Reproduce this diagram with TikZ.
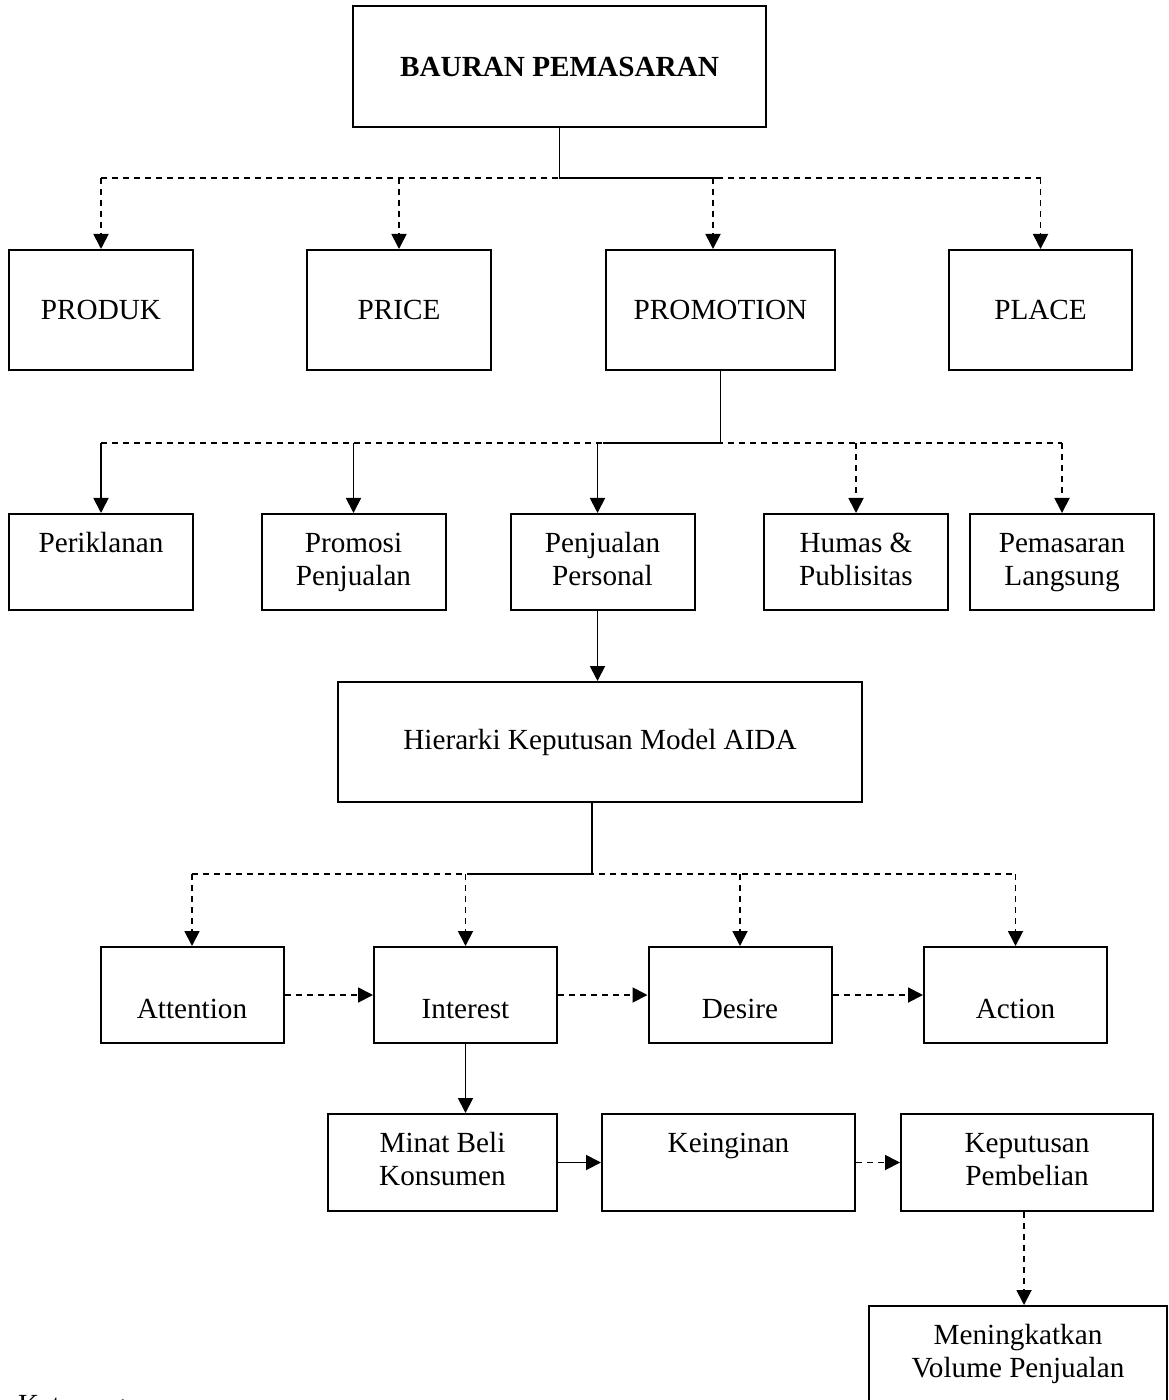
\documentclass[tikz,border=0pt]{standalone}
\usepackage{fontspec}
\setmainfont{Liberation Serif}
\usetikzlibrary{ arrows.meta, % For the filled triangle tips
               }
\tikzstyle{box} = [rectangle, draw=black, line width=1pt, align=center, inner sep=0pt,
                   font=\fontsize{14.6}{16.5}\selectfont]
\tikzstyle{rowtwo} = [box, minimum width=92pt, minimum height=60pt]
\tikzstyle{rowthree} = [box, minimum width=92pt, minimum height=48pt]
\tikzstyle{rowfour} = [box, minimum width=91.5pt, minimum height=48pt]
\tikzstyle{rowfive} = [box, minimum height=48.5pt]
\tikzstyle{link} = [draw=black, line width=0.9pt]
\tikzstyle{dashline} = [link, dash pattern=on 3pt off 2.5pt]
\tikzstyle{solidarrow} = [link, -{Triangle[length=7.5pt, width=7.5pt]}]
\tikzstyle{dasharrow} = [dashline, -{Triangle[length=7.5pt, width=7.5pt]}]
\newcommand{\boxlines}[2]{\strut #1\\\strut #2}

\begin{document}
\begin{tikzpicture}[x=0.5pt, y=-0.5pt]
  \useasboundingbox[fill=white] (0, 0) rectangle (1168, 1400);

  % bauran pemasaran
  \node (bauran) [box, minimum width=206.5pt, minimum height=60.5pt] at (559.5, 66.5) {\textbf{BAURAN PEMASARAN}};

  \node (produk) [rowtwo] at (101, 310) {PRODUK};
  \node (price) [rowtwo] at (399, 310) {PRICE};
  \node (promotion) [rowtwo, minimum width=114.5pt] at (720.5, 310) {PROMOTION};
  \node (place) [rowtwo, minimum width=91.5pt] at (1040.5, 310) {PLACE};

  % promotion mix
  \node (iklan) [rowthree] at (101, 562) {\boxlines{Periklanan}{}};
  \node (promosi) [rowthree] at (353.5, 562) {\boxlines{Promosi}{Penjualan}};
  \node (personal) [rowthree] at (602.5, 562) {\boxlines{Penjualan}{Personal}};
  \node (humas) [rowthree] at (856, 562) {\boxlines{Humas \&}{Publisitas}};
  \node (langsung) [rowthree] at (1062, 562) {\boxlines{Pemasaran}{Langsung}};

  \node (aida) [box, minimum width=262pt, minimum height=60pt] at (600, 742) {Hierarki Keputusan Model AIDA};

  % AIDA
  \node (attention) [rowfour] at (192, 995) {\boxlines{}{Attention}};
  \node (interest) [rowfour] at (465.5, 995) {\boxlines{}{Interest}};
  \node (desire) [rowfour] at (740, 995) {\boxlines{}{Desire}};
  \node (action) [rowfour] at (1015.5, 995) {\boxlines{}{Action}};

  \node (minat) [rowfive, minimum width=114.5pt] at (442.5, 1162.5) {\boxlines{Minat Beli}{Konsumen}};
  \node (keinginan) [rowfive, minimum width=126.5pt] at (728.5, 1162.5) {\boxlines{Keinginan}{}};
  \node (keputusan) [rowfive, minimum width=126pt] at (1027, 1162.5) {\boxlines{Keputusan}{Pembelian}};
  \node (naik) [box, minimum width=149pt, minimum height=48pt] at (1018, 1354) {\boxlines{Meningkatkan}{Volume Penjualan}};

  \node (ket) [anchor=base west, font=\fontsize{14.6}{16.5}\selectfont] at (11, 1414) {Keterangan};

  % first level
  \coordinate (bus1w) at (101, 178);
  \coordinate (bus1e) at (1040.5, 178);
  \coordinate (tapprom) at (713, 178);
  \path [dashline] (bus1w) -- (bus1e);
  \path [link] (bauran.south) |- (promotion.north |- bus1w);
  \path [dasharrow] (bus1w) -- (produk.north);
  \path [dasharrow] (price.north |- bus1w) -- (price.north);
  \path [dasharrow] (tapprom) -- (tapprom |- promotion.north);
  \path [dasharrow] (bus1e) -- (place.north);

  % second level
  \coordinate (bus2w) at (101, 443);
  \coordinate (bus2e) at (1062, 443);
  \coordinate (tappers) at (597.5, 443);
  \path [dashline] (bus2w) -- (bus2e);
  \path [link] (promotion.south) |- (personal.north |- bus2w);
  \path [solidarrow] (bus2w) -- (iklan.north);
  \path [solidarrow] (promosi.north |- bus2w) -- (promosi.north);
  \path [solidarrow] (tappers) -- (tappers |- personal.north);
  \path [dasharrow] (humas.north |- bus2w) -- (humas.north);
  \path [dasharrow] (bus2e) -- (langsung.north);
  \path [solidarrow] (tappers |- personal.south) -- (tappers |- aida.north);

  % third level
  \coordinate (bus3w) at (192, 874);
  \coordinate (bus3e) at (1015.5, 874);
  \coordinate (aidadown) at (592, 874);
  \coordinate (tapint) at (471, 874);
  \path [dashline] (bus3w) -- (bus3e);
  \path [link] (aidadown |- aida.south) -- (aidadown) -- (tapint);
  \path [dasharrow] (bus3w) -- (attention.north);
  \path [dasharrow] (interest.north |- bus3w) -- (interest.north);
  \path [dasharrow] (desire.north |- bus3w) -- (desire.north);
  \path [dasharrow] (bus3e) -- (action.north);
  \path [dasharrow] (attention) -- (interest);
  \path [dasharrow] (interest) -- (desire);
  \path [dasharrow] (desire) -- (action);

  % purchase
  \coordinate (tapbeli) at (1024, 1211);
  \path [solidarrow] (interest.south) -- (interest.south |- minat.north);
  \path [solidarrow] (minat) -- (keinginan);
  \path [dasharrow] (keinginan) -- (keputusan);
  \path [dasharrow] (tapbeli |- keputusan.south) -- (tapbeli |- naik.north);
\end{tikzpicture}
\end{document}
